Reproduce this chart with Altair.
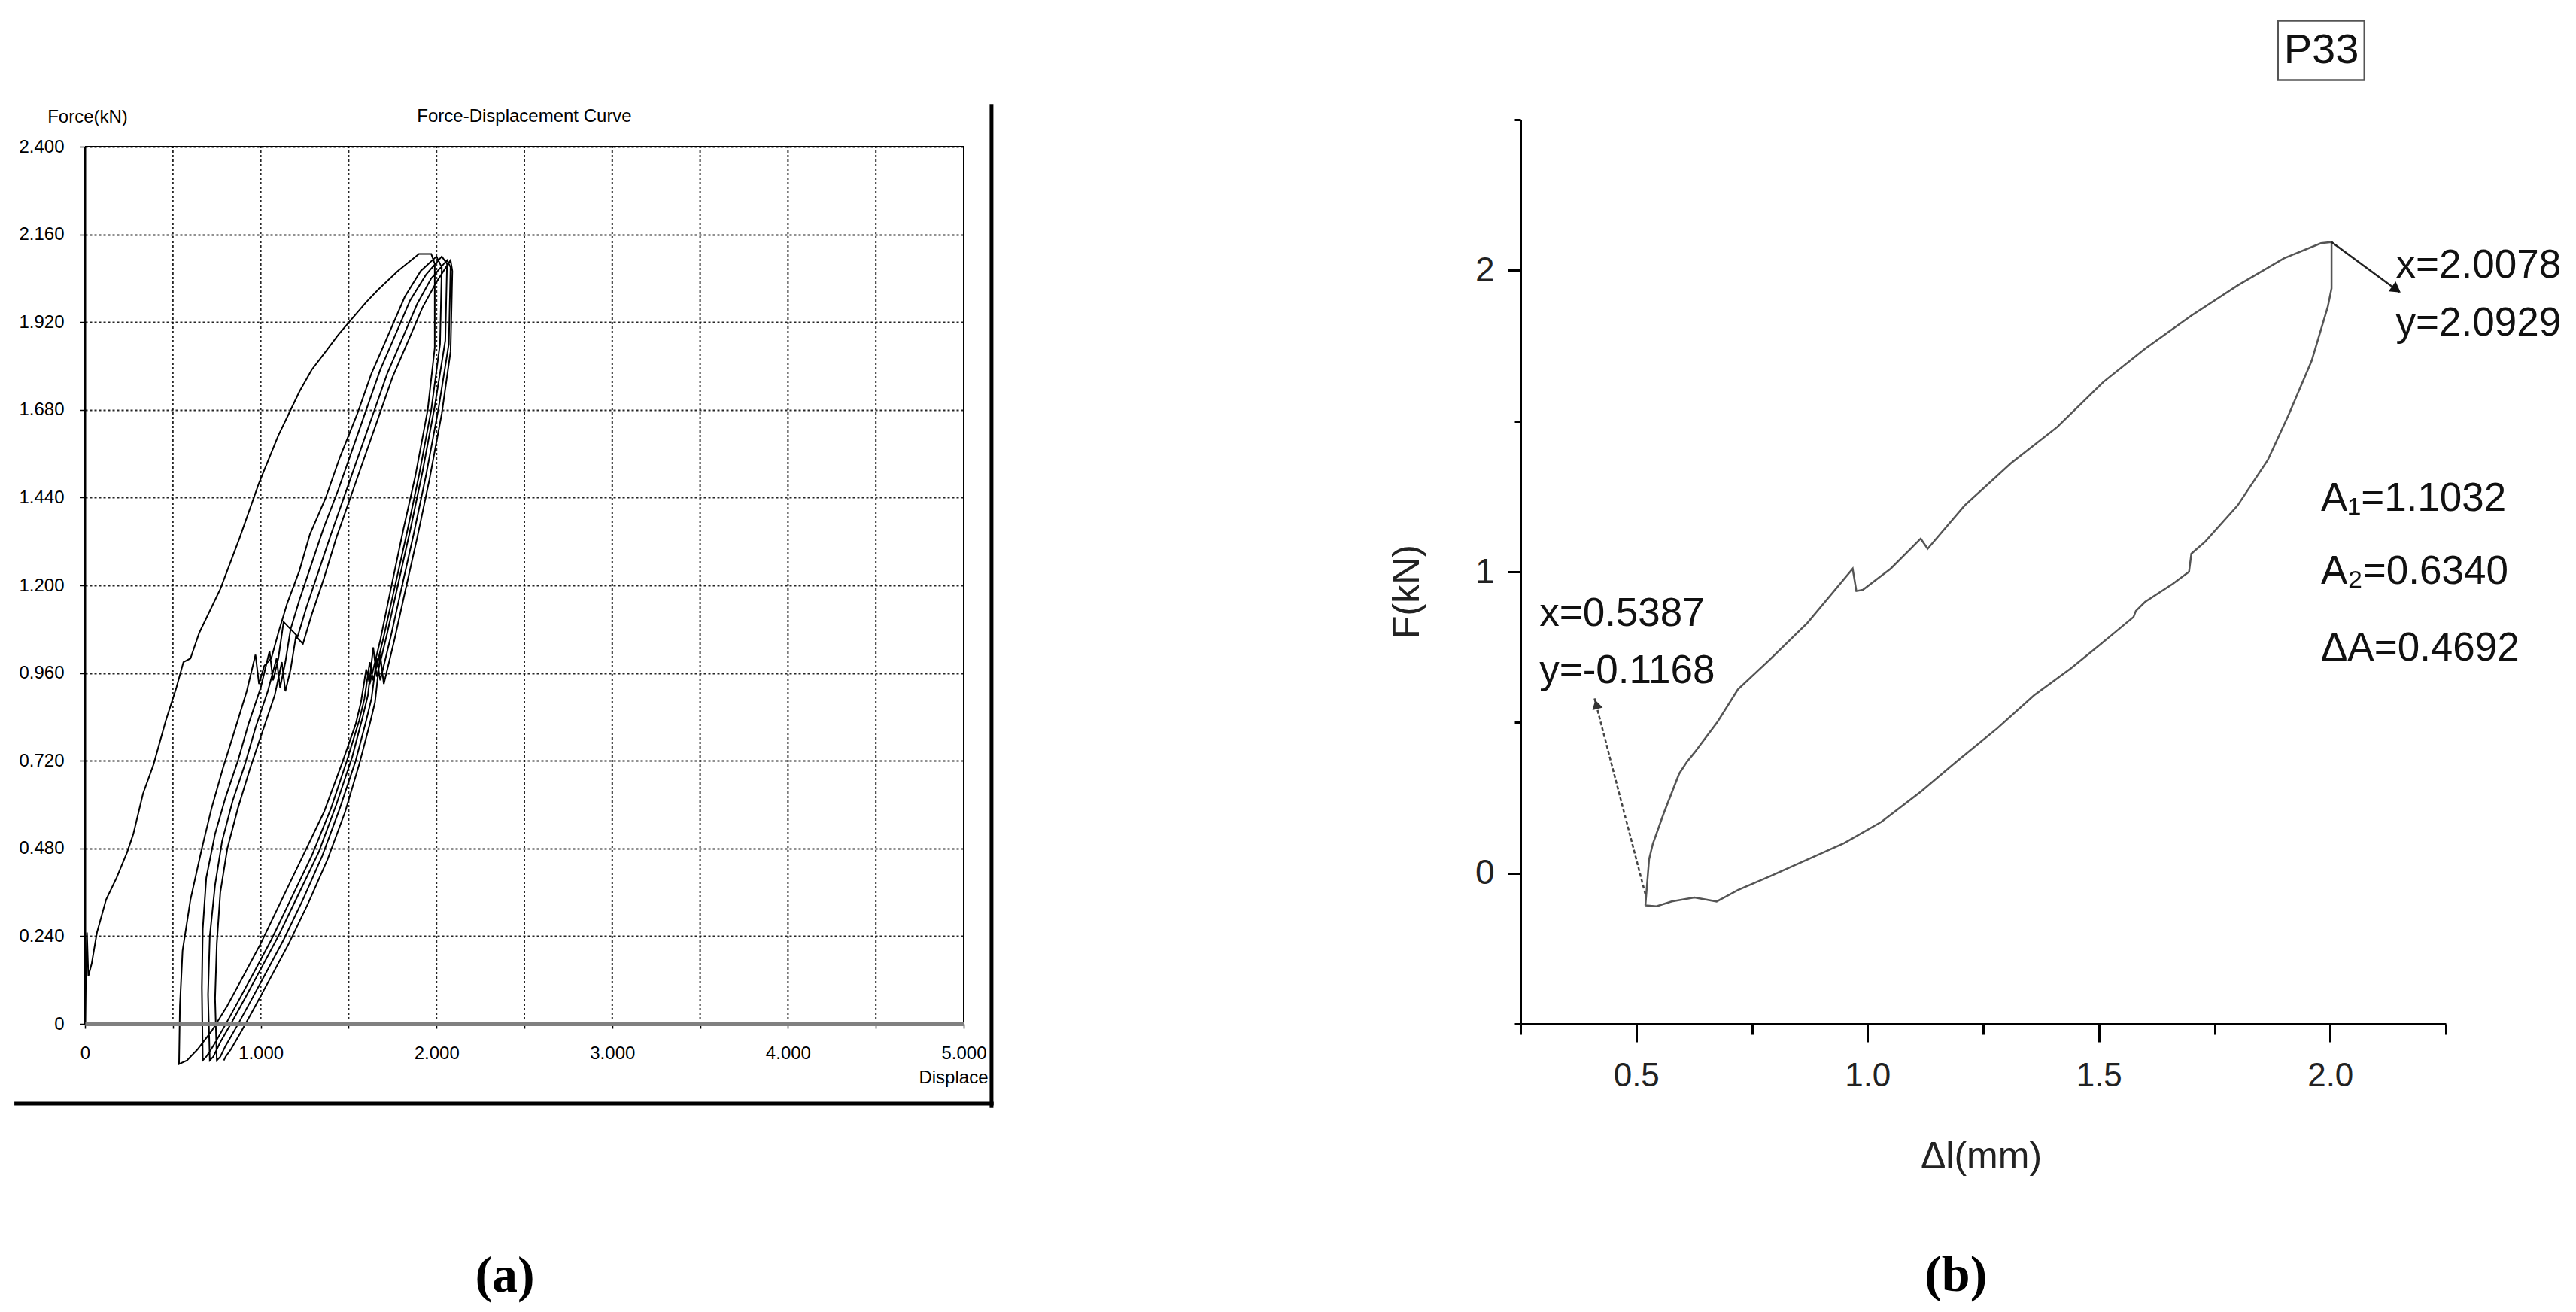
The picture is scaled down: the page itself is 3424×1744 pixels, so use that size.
import altair as alt
import pandas as pd

# ================= Panel (a): Force-Displacement Curve =================
A_XTICKS = [0, 0.5, 1, 1.5, 2, 2.5, 3, 3.5, 4, 4.5, 5]
A_YTICKS = [0, 0.24, 0.48, 0.72, 0.96, 1.2, 1.44, 1.68, 1.92, 2.16, 2.4]
A_XMAX = 5
A_YMAX = 2.4

# initial loading
a_init_x = [0.0, 0.011, 0.019, 0.038, 0.068, 0.12, 0.18, 0.24, 0.275, 0.33, 0.39, 0.46, 0.52, 0.56, 0.60, 0.65, 0.77, 0.88, 0.99, 1.10, 1.16, 1.22, 1.29, 1.37, 1.44, 1.52, 1.60, 1.67, 1.78, 1.90, 1.97]
a_init_y = [0.0, 0.25, 0.13, 0.165, 0.25, 0.34, 0.40, 0.47, 0.52, 0.63, 0.71, 0.83, 0.92, 0.99, 1.00, 1.07, 1.19, 1.33, 1.48, 1.61, 1.67, 1.73, 1.79, 1.84, 1.885, 1.93, 1.975, 2.01, 2.06, 2.107, 2.107]
# unloading (u) / reloading (l) cycles
a_u1_x = [1.97, 1.99, 1.99, 1.95, 1.88, 1.81, 1.74, 1.68, 1.62, 1.60, 1.57, 1.54, 1.46, 1.36, 1.23, 1.11, 1.00, 0.90, 0.81, 0.72, 0.64, 0.58, 0.535]
a_u1_y = [2.107, 2.08, 1.85, 1.68, 1.50, 1.35, 1.19, 1.05, 0.93, 0.97, 0.88, 0.82, 0.71, 0.58, 0.45, 0.33, 0.22, 0.13, 0.05, -0.02, -0.07, -0.10, -0.11]
a_l2_x = [0.535, 0.54, 0.555, 0.60, 0.665, 0.72, 0.785, 0.85, 0.92, 0.97, 0.99, 1.02, 1.06, 1.10, 1.15, 1.22, 1.28, 1.37, 1.45, 1.55, 1.63, 1.73, 1.82, 1.91, 2.00]
a_l2_y = [-0.11, 0.05, 0.20, 0.34, 0.48, 0.59, 0.70, 0.80, 0.91, 1.01, 0.93, 0.98, 1.00, 1.07, 1.15, 1.24, 1.34, 1.44, 1.55, 1.67, 1.78, 1.89, 1.99, 2.06, 2.10]
a_u2_x = [2.00, 2.03, 2.02, 1.97, 1.90, 1.83, 1.76, 1.70, 1.64, 1.62, 1.59, 1.56, 1.49, 1.40, 1.29, 1.17, 1.06, 0.96, 0.87, 0.79, 0.73, 0.69, 0.67]
a_u2_y = [2.10, 2.07, 1.86, 1.68, 1.50, 1.34, 1.19, 1.06, 0.94, 0.99, 0.89, 0.83, 0.72, 0.59, 0.46, 0.34, 0.23, 0.14, 0.06, -0.01, -0.06, -0.09, -0.10]
a_l3_x = [0.67, 0.665, 0.67, 0.69, 0.74, 0.80, 0.87, 0.93, 1.00, 1.05, 1.07, 1.10, 1.13, 1.17, 1.22, 1.29, 1.36, 1.44, 1.52, 1.60, 1.68, 1.77, 1.85, 1.94, 2.03]
a_l3_y = [-0.10, 0.10, 0.26, 0.40, 0.52, 0.62, 0.72, 0.82, 0.92, 1.02, 0.94, 1.00, 1.10, 1.08, 1.16, 1.26, 1.36, 1.46, 1.57, 1.68, 1.79, 1.89, 1.98, 2.05, 2.10]
a_u3_x = [2.03, 2.06, 2.05, 1.99, 1.92, 1.85, 1.78, 1.72, 1.66, 1.64, 1.61, 1.58, 1.52, 1.43, 1.33, 1.21, 1.10, 1.00, 0.91, 0.83, 0.77, 0.73, 0.71]
a_u3_y = [2.10, 2.08, 1.87, 1.69, 1.51, 1.35, 1.20, 1.07, 0.95, 1.03, 0.90, 0.84, 0.73, 0.60, 0.47, 0.35, 0.24, 0.15, 0.07, 0.0, -0.05, -0.09, -0.10]
a_l4_x = [0.71, 0.70, 0.71, 0.74, 0.78, 0.84, 0.91, 0.97, 1.04, 1.09, 1.11, 1.14, 1.17, 1.21, 1.26, 1.33, 1.40, 1.48, 1.56, 1.64, 1.72, 1.81, 1.89, 1.97, 2.06]
a_l4_y = [-0.10, 0.08, 0.24, 0.38, 0.50, 0.61, 0.71, 0.81, 0.91, 1.00, 0.92, 0.99, 1.08, 1.06, 1.14, 1.24, 1.34, 1.45, 1.56, 1.67, 1.78, 1.88, 1.97, 2.04, 2.09]
a_u4_x = [2.06, 2.08, 2.07, 2.01, 1.94, 1.87, 1.80, 1.74, 1.68, 1.66, 1.63, 1.60, 1.54, 1.45, 1.35, 1.24, 1.13, 1.03, 0.94, 0.86, 0.80, 0.77, 0.75]
a_u4_y = [2.09, 2.07, 1.86, 1.68, 1.50, 1.34, 1.19, 1.06, 0.94, 1.00, 0.89, 0.83, 0.72, 0.59, 0.46, 0.34, 0.23, 0.14, 0.06, -0.01, -0.06, -0.09, -0.10]
a_l5_x = [0.75, 0.74, 0.75, 0.77, 0.81, 0.87, 0.94, 1.01, 1.08, 1.12, 1.14, 1.17, 1.20, 1.24, 1.29, 1.36, 1.43, 1.51, 1.59, 1.67, 1.75, 1.84, 1.92, 2.00, 2.08]
a_l5_y = [-0.10, 0.07, 0.22, 0.36, 0.48, 0.59, 0.70, 0.80, 0.90, 0.99, 0.91, 0.97, 1.06, 1.04, 1.12, 1.22, 1.33, 1.44, 1.55, 1.66, 1.77, 1.87, 1.96, 2.03, 2.09]
a_u5_x = [2.08, 2.09, 2.08, 2.03, 1.96, 1.89, 1.82, 1.76, 1.70, 1.68, 1.65, 1.62, 1.56, 1.48, 1.38, 1.27, 1.16, 1.06, 0.97, 0.89, 0.83, 0.80, 0.79]
a_u5_y = [2.09, 2.06, 1.84, 1.67, 1.49, 1.33, 1.18, 1.05, 0.93, 1.01, 0.88, 0.82, 0.71, 0.58, 0.45, 0.33, 0.22, 0.13, 0.05, -0.02, -0.07, -0.09, -0.10]

# ================= Panel (b): P33 single loop =================
B_XTICKS = [0.25, 0.5, 0.75, 1.0, 1.25, 1.5, 1.75, 2.0, 2.25]
B_YTICKS = [-0.5, 0, 0.5, 1, 1.5, 2, 2.5]
b_up_x = [0.52, 0.528, 0.536, 0.56, 0.593, 0.61, 0.626, 0.675, 0.72, 0.79, 0.87, 0.968, 0.976, 0.99, 1.05, 1.115, 1.13, 1.21, 1.31, 1.41, 1.51, 1.60, 1.70, 1.80, 1.90, 1.98, 2.003]
b_up_y = [-0.107, 0.046, 0.097, 0.20, 0.33, 0.37, 0.40, 0.50, 0.61, 0.71, 0.83, 1.01, 0.936, 0.94, 1.01, 1.11, 1.076, 1.22, 1.36, 1.48, 1.63, 1.74, 1.85, 1.95, 2.04, 2.09, 2.094]
b_dn_x = [2.003, 2.003, 1.995, 1.96, 1.91, 1.865, 1.80, 1.73, 1.70, 1.695, 1.66, 1.60, 1.58, 1.575, 1.52, 1.44, 1.36, 1.28, 1.20, 1.115, 1.03, 0.95, 0.87, 0.79, 0.72, 0.674, 0.626, 0.577, 0.544, 0.52]
b_dn_y = [2.094, 1.94, 1.88, 1.70, 1.52, 1.37, 1.22, 1.10, 1.06, 1.00, 0.96, 0.90, 0.87, 0.85, 0.78, 0.68, 0.59, 0.48, 0.38, 0.27, 0.17, 0.10, 0.045, -0.01, -0.056, -0.094, -0.081, -0.094, -0.11, -0.107]

b_labels = ["x=2.0078", "y=2.0929", "A\u2081=1.1032", "A\u2082=0.6340", "\u0394A=0.4692", "x=0.5387", "y=-0.1168"]
b_label_x = [2.142, 2.142, 1.98, 1.98, 1.98, 0.291, 0.291]
b_label_y = [2.015, 1.823, 1.242, 1.0, 0.746, 0.86, 0.67]

# ---------------- build panel (a) ----------------
segs_x = [a_init_x, a_u1_x, a_l2_x, a_u2_x, a_l3_x, a_u3_x, a_l4_x, a_u4_x, a_l5_x, a_u5_x]
segs_y = [a_init_y, a_u1_y, a_l2_y, a_u2_y, a_l3_y, a_u3_y, a_l4_y, a_u4_y, a_l5_y, a_u5_y]
rows = []
for sx, sy in zip(segs_x, segs_y):
    for xv, yv in zip(sx, sy):
        rows.append({"x": xv, "y": yv, "seq": len(rows)})
df_a = pd.DataFrame(rows)

FA = "Liberation Sans"
xa_scale = alt.Scale(domain=[0, A_XMAX], nice=False, zero=False)
# the plot area of (a) sits lower than that of (b): the band above 2.4 is left empty
ya_scale = alt.Scale(domain=[0, 2.4743], nice=False, zero=False)

xa_axis = alt.Axis(
    values=A_XTICKS,
    labelExpr="datum.value == 0 ? '0' : (datum.value % 1 == 0 ? format(datum.value, '.3f') : '')",
    grid=False,
    domainColor="#808080", domainWidth=5, tickColor="black", tickSize=6, tickWidth=1.5,
    labelFont=FA, labelFontSize=24, labelColor="black", labelPadding=21,
    labelFlush=False, labelOverlap=False,
    title="Displace", titleFont=FA, titleFontSize=24, titleFontWeight="normal", titleColor="black",
    titleX=1200, titleY=71, titleAlign="right", titleBaseline="middle", titleAnchor="end",
    zindex=2,
)
ya_axis = alt.Axis(
    values=A_YTICKS,
    labelExpr="datum.value == 0 ? '0' : format(datum.value, '.3f')",
    grid=True, gridDash=[3, 3], gridColor="black", gridWidth=2, gridOpacity=0.85,
    domain=False, tickColor="black", tickSize=7, tickWidth=1.5,
    labelFont=FA, labelFontSize=24, labelColor="black", labelPadding=21, labelOverlap=False,
    title="Force(kN)", titleFont=FA, titleFontSize=24, titleFontWeight="normal", titleColor="black",
    titleAngle=0, titleX=3, titleY=-4, titleAlign="center", titleBaseline="middle",
    zindex=1,
)

# vertical dotted gridlines at the x tick values
vgrid_a = alt.Chart(pd.DataFrame({"x": A_XTICKS[1:-1], "y": [0] * (len(A_XTICKS) - 2),
                                  "y2": [A_YMAX] * (len(A_XTICKS) - 2)})).mark_rule(
    color="black", strokeWidth=2, strokeDash=[3, 3], opacity=0.85
).encode(x=alt.X("x:Q", scale=xa_scale, axis=xa_axis), y=alt.Y("y:Q", scale=ya_scale, axis=ya_axis), y2="y2:Q")

line_a = alt.Chart(df_a).mark_line(color="black", strokeWidth=2, clip=False).encode(
    x=alt.X("x:Q", scale=xa_scale),
    y=alt.Y("y:Q", scale=ya_scale),
    order="seq:Q",
)

# plot frame: left, top, right
frame_a = alt.Chart(pd.DataFrame({
    "x": [0, 0, A_XMAX], "x2": [0, A_XMAX, A_XMAX],
    "y": [0, A_YMAX, 0], "y2": [A_YMAX, A_YMAX, A_YMAX], "w": [3, 2, 2]
})).mark_rule(color="black").encode(
    x=alt.X("x:Q", scale=xa_scale), x2="x2:Q", y=alt.Y("y:Q", scale=ya_scale), y2="y2:Q",
    strokeWidth=alt.StrokeWidth("w:Q", scale=None),
)

title_a = alt.Chart(pd.DataFrame({"x": [2.5], "y": [2.482], "t": ["Force-Displacement Curve"]})).mark_text(
    font=FA, fontSize=24, color="black", align="center", baseline="middle", clip=False
).encode(x=alt.X("x:Q", scale=xa_scale), y=alt.Y("y:Q", scale=ya_scale), text="t:N")

border_a = alt.Chart(pd.DataFrame({
    "x": [5.158, -0.402], "x2": [5.158, 5.17], "y": [2.517, -0.218], "y2": [-0.23, -0.218]
})).mark_rule(color="black", strokeWidth=5, clip=False).encode(
    x=alt.X("x:Q", scale=xa_scale), x2="x2:Q", y=alt.Y("y:Q", scale=ya_scale), y2="y2:Q"
)

cap_a = alt.Chart(pd.DataFrame({"x": [2.389], "y": [-0.692], "t": ["(a)"]})).mark_text(
    font="Liberation Serif", fontSize=68, fontWeight="bold", color="black",
    align="center", baseline="middle", clip=False
).encode(x=alt.X("x:Q", scale=xa_scale), y=alt.Y("y:Q", scale=ya_scale), text="t:N")

chart_a = alt.layer(vgrid_a, line_a, frame_a, title_a, border_a, cap_a).properties(
    width=1168, height=1202,
    view=alt.ViewBackground(strokeOpacity=0),
)

# ---------------- build panel (b) ----------------
FB = "Liberation Sans"
rows_b = []
for xv, yv in zip(b_up_x + b_dn_x, b_up_y + b_dn_y):
    rows_b.append({"x": xv, "y": yv, "seq": len(rows_b)})
df_b = pd.DataFrame(rows_b)

xb_scale = alt.Scale(domain=[0.25, 2.25], nice=False, zero=False)
yb_scale = alt.Scale(domain=[-0.5, 2.5], nice=False, zero=False)

xb_axis = alt.Axis(
    values=B_XTICKS,
    labelExpr="datum.value % 0.5 == 0 ? format(datum.value, '.1f') : ''",
    grid=False, domainColor="black", domainWidth=3, tickColor="black", tickWidth=3,
    tickSize={"condition": {"test": "datum.value % 0.5 == 0", "value": 24}, "value": 14},
    labelFont=FB, labelFontSize=44, labelColor="#222222", labelPadding=23,
    labelFlush=False, labelOverlap=False,
    title="\u0394l(mm)", titleFont=FB, titleFontSize=50, titleFontWeight="normal", titleColor="#222222",
    titleX=612, titleY=176, titleAlign="center", titleBaseline="middle",
)
yb_axis = alt.Axis(
    values=B_YTICKS,
    labelExpr="datum.value % 1 == 0 ? format(datum.value, 'd') : ''",
    grid=False, domainColor="black", domainWidth=3, tickColor="black", tickWidth=3,
    tickSize={"condition": {"test": "datum.value % 1 == 0", "value": 17}, "value": 8},
    labelFont=FB, labelFontSize=46, labelColor="#222222", labelPadding=18, labelOverlap=False,
    title="F(kN)", titleFont=FB, titleFontSize=50, titleFontWeight="normal", titleColor="#222222",
    titleAngle=270, titleX=-151, titleY=627, titleAlign="center", titleBaseline="middle",
)

line_b = alt.Chart(df_b).mark_line(color="#555555", strokeWidth=2.5, clip=False).encode(
    x=alt.X("x:Q", scale=xb_scale, axis=xb_axis),
    y=alt.Y("y:Q", scale=yb_scale, axis=yb_axis),
    order="seq:Q",
)

texts_b = alt.Chart(pd.DataFrame({"x": b_label_x, "y": b_label_y, "t": b_labels})).mark_text(
    font=FB, fontSize=53, color="#111111", align="left", baseline="middle", clip=False
).encode(x=alt.X("x:Q", scale=xb_scale), y=alt.Y("y:Q", scale=yb_scale), text="t:N")

arrow_peak = alt.Chart(pd.DataFrame({"x": [2.003], "y": [2.094], "x2": [2.15], "y2": [1.928]})).mark_rule(
    color="#222222", strokeWidth=2.5, clip=False
).encode(x=alt.X("x:Q", scale=xb_scale), y=alt.Y("y:Q", scale=yb_scale), x2="x2:Q", y2="y2:Q")

arrow_low = alt.Chart(pd.DataFrame({"x": [0.52], "y": [-0.07], "x2": [0.41], "y2": [0.58]})).mark_rule(
    color="#444444", strokeWidth=2.5, strokeDash=[5, 3], clip=False
).encode(x=alt.X("x:Q", scale=xb_scale), y=alt.Y("y:Q", scale=yb_scale), x2="x2:Q", y2="y2:Q")

head_peak = alt.Chart(pd.DataFrame({"x": [2.14], "y": [1.94]})).mark_point(
    shape="triangle", filled=True, color="#111111", size=260, angle=126, opacity=1, clip=False
).encode(x=alt.X("x:Q", scale=xb_scale), y=alt.Y("y:Q", scale=yb_scale))

head_low = alt.Chart(pd.DataFrame({"x": [0.415], "y": [0.555]})).mark_point(
    shape="triangle", filled=True, color="#333333", size=200, angle=345, opacity=1, clip=False
).encode(x=alt.X("x:Q", scale=xb_scale), y=alt.Y("y:Q", scale=yb_scale))

box_b = alt.Chart(pd.DataFrame({"x": [1.887], "x2": [2.074], "y": [2.631], "y2": [2.828]})).mark_rect(
    fill="white", stroke="#555555", strokeWidth=2.5, clip=False
).encode(x=alt.X("x:Q", scale=xb_scale), x2="x2:Q", y=alt.Y("y:Q", scale=yb_scale), y2="y2:Q")

box_text = alt.Chart(pd.DataFrame({"x": [1.981], "y": [2.73], "t": ["P33"]})).mark_text(
    font=FB, fontSize=56, color="#111111", align="center", baseline="middle", clip=False
).encode(x=alt.X("x:Q", scale=xb_scale), y=alt.Y("y:Q", scale=yb_scale), text="t:N")

cap_b = alt.Chart(pd.DataFrame({"x": [1.191], "y": [-1.337], "t": ["(b)"]})).mark_text(
    font="Liberation Serif", fontSize=68, fontWeight="bold", color="black",
    align="center", baseline="middle", clip=False
).encode(x=alt.X("x:Q", scale=xb_scale), y=alt.Y("y:Q", scale=yb_scale), text="t:N")

chart_b = alt.layer(line_b, arrow_peak, arrow_low, head_peak, head_low, texts_b, box_b, box_text, cap_b).properties(
    width=1230, height=1202,
    view=alt.ViewBackground(strokeOpacity=0),
)

chart = alt.concat(chart_a, chart_b, columns=2).properties(
    spacing=521,
    padding={"left": 8, "top": 18, "right": 0, "bottom": 0},
    background="white",
)

chart.save("out.html", embed_options={"renderer": "svg", "actions": False})
